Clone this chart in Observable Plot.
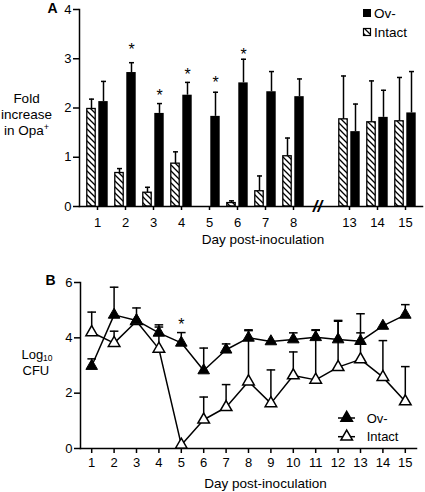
<!DOCTYPE html>
<html><head><meta charset="utf-8">
<script src="https://cdn.jsdelivr.net/npm/d3@7"></script>
<script src="https://cdn.jsdelivr.net/npm/@observablehq/plot@0.6"></script>
<style>
html,body{margin:0;padding:0;background:#fff;}
#wrap{position:relative;width:425px;height:492px;overflow:hidden;font-family:"Liberation Sans",Arial,Helvetica,sans-serif;}
#a{position:absolute;left:0;top:0;}
#b{position:absolute;left:0;top:255px;}
#legend{position:absolute;left:0;top:0;pointer-events:none;}
</style></head><body>
<div id="wrap"><div id="a"></div><div id="b"></div><svg id="legend" width="425" height="492"></svg></div>
<script>
// ---------- Panel A data ----------
const daysA = ["1","2","3","4","5","6","7","8","13","14","15"];
const slotsA = ["1","2","3","4","5","6","7","8","//","13","14","15"];
const intactA    = [1.98, 0.68, 0.28, 0.87, null, 0.07, 0.31, 1.02, 1.77, 1.71, 1.73];
const intactAErr = [2.18, 0.77, 0.39, 1.11, null, 0.115, 0.62, 1.39, 2.65, 2.55, 2.62];
const ovA        = [2.13, 2.72, 1.89, 2.26, 1.83, 2.51, 2.33, 2.23, 1.52, 1.81, 1.90];
const ovAErr     = [2.54, 2.92, 2.09, 2.52, 2.32, 2.99, 2.74, 2.59, 2.08, 2.36, 2.74];
const starDaysA  = ["2","3","4","5","6"];
const starYA     = [3.27, 2.33, 2.76, 2.60, 3.16];
const yTicksA    = [0,1,2,3,4];

// ---------- Panel B data ----------
const daysB      = [1,2,3,4,5,6,7,8,9,10,11,12,13,14,15];
const ovB        = [2.98, 4.83, 4.63, 4.18, 3.82, 2.82, 3.57, 4.00, 3.87, 3.94, 4.02, 3.94, 3.88, 4.43, 4.83];
const ovBErr     = [3.24, 5.83, 5.08, 4.47, 4.19, 3.63, 3.78, 4.29, null, 4.18, 4.29, 4.63, 4.87, null, 5.20];
const intactB    = [4.20, 3.81, 4.60, 3.60, 0.13, 1.04, 1.49, 2.42, 1.63, 2.64, 2.48, 2.94, 3.22, 2.58, 1.70];
const intactBErr = [4.93, 4.24, null, 4.39, null, 1.86, 2.31, 4.26, 2.84, 3.49, 4.27, 4.60, 4.18, 3.90, 2.96];
const starDaysB  = [5];
const starYB     = [4.62];
const yTicksB    = [0,2,4,6];

const seriesNames = ["Ov-","Intact"];
const xTitle = "Day post-inoculation";

const FONT = "'Liberation Sans', Arial, Helvetica, sans-serif";
const SW = 1.5;
const cap = hw => ({draw(ctx){ ctx.moveTo(-hw,0); ctx.lineTo(hw,0); }});

// ---------- Panel A ----------
const rowsA = daysA.map((d,i)=>({day:d, intact:intactA[i], intactErr:intactAErr[i], ov:ovA[i], ovErr:ovAErr[i]}));
const starsA = starDaysA.map((d,i)=>({day:d, y:starYA[i]}));
const mLA = 79, mRA = 3, WA = 425;
const bw = (WA - mLA - mRA) / slotsA.length;

const chartA = Plot.plot({
  width: WA, height: 250,
  marginLeft: mLA, marginRight: mRA, marginTop: 9, marginBottom: 44,
  style: {fontFamily: FONT, fontSize: "13px", color: "black", background: "white", overflow: "visible"},
  x: {type: "band", domain: slotsA, padding: 0},
  y: {domain: [0,4]},
  marks: [
    Plot.barY(rowsA, {x:"day", y:"intact", fill:"url(#hatchA)", stroke:"black", strokeWidth:1.3,
      insetLeft: bw/2 - 10.5, insetRight: bw/2 + 1.5}),
    Plot.barY(rowsA, {x:"day", y:"ov", fill:"black", insetLeft: bw/2 + 1, insetRight: bw/2 - 11}),
    Plot.ruleX(rowsA, {x:"day", y1:"intact", y2:"intactErr", dx:-6, strokeWidth:SW}),
    Plot.ruleX(rowsA, {x:"day", y1:"ov", y2:"ovErr", dx:6, strokeWidth:SW}),
    Plot.dot(rowsA, {x:"day", y:"intactErr", dx:-6, r:3, symbol:cap(2.5), stroke:"black", strokeWidth:SW, fill:"none"}),
    Plot.dot(rowsA, {x:"day", y:"ovErr", dx:6, r:3, symbol:cap(2.5), stroke:"black", strokeWidth:SW, fill:"none"}),
    Plot.text(starsA, {x:"day", y:"y", text:()=>"*", dx:6, dy:4, fontSize:16}),
    Plot.frame({anchor:"left", strokeWidth:SW}),
    Plot.frame({anchor:"bottom", strokeWidth:SW}),
    Plot.text([{s:"//", v:0}], {x:()=>"//", y:"v", text:"s", dx:-4, dy:0, fontSize:17, fontWeight:"bold", fontStyle:"italic"}),
    Plot.axisX({ticks: daysA, tickSize:4, tickPadding:7, label:null, strokeWidth:SW}),
    Plot.axisY({ticks: yTicksA, tickFormat: d => String(d), tickSize:6, tickPadding:2, label:null, strokeWidth:SW}),
    Plot.text([xTitle], {text:d=>d, frameAnchor:"bottom", dy:33, dx:12, lineAnchor:"middle", fontSize:13.5}),
    Plot.text(["Fold\nincrease\nin Opa+"], {text:d=>d, frameAnchor:"left", dx:-53, dy:5.5, textAnchor:"middle", lineAnchor:"middle", lineHeight:1.18, fontSize:13.5}),
    Plot.text(["A"], {text:d=>d, frameAnchor:"top-left", dx:-32, dy:-1, lineAnchor:"middle", fontWeight:"bold", fontSize:14})
  ]
});
{
  const defs = d3.select(chartA).insert("defs", ":first-child");
  const p = defs.append("pattern").attr("id","hatchA").attr("patternUnits","userSpaceOnUse").attr("width",6).attr("height",6);
  p.append("rect").attr("width",6).attr("height",6).attr("fill","white");
  p.append("path").attr("d","M-1,-1L7,7M-1,5L1,7M5,-1L7,1").attr("stroke","black").attr("stroke-width",1.3);
  d3.select(chartA).selectAll("tspan").filter(function(){return this.textContent==="in Opa+";}).each(function(){
    this.textContent = "in Opa";
    d3.select(this).append("tspan").attr("baseline-shift","super").attr("font-size","9px").text("+");
  });
}
document.getElementById("a").appendChild(chartA);

// ---------- Panel B ----------
const rowsB = daysB.map((d,i)=>({day:d, ov:ovB[i], ovErr:ovBErr[i], intact:intactB[i], intactErr:intactBErr[i]}));
const starsB = starDaysB.map((d,i)=>({day:d, y:starYB[i]}));
const chartB = Plot.plot({
  width: 425, height: 237,
  marginLeft: 80, marginRight: 9, marginTop: 27, marginBottom: 44,
  style: {fontFamily: FONT, fontSize: "13px", color: "black", background: "white", overflow: "visible"},
  x: {domain: [0.5, 15.5]},
  y: {domain: [0, 6]},
  marks: [
    Plot.line(rowsB, {x:"day", y:"intact", stroke:"black", strokeWidth:SW}),
    Plot.line(rowsB, {x:"day", y:"ov", stroke:"black", strokeWidth:SW}),
    Plot.ruleX(rowsB, {x:"day", y1:"intact", y2:"intactErr", strokeWidth:SW}),
    Plot.ruleX(rowsB, {x:"day", y1:"ov", y2:"ovErr", strokeWidth:SW}),
    Plot.dot(rowsB, {x:"day", y:"intactErr", r:3, symbol:cap(4.3), stroke:"black", strokeWidth:SW, fill:"none"}),
    Plot.dot(rowsB, {x:"day", y:"ovErr", r:3, symbol:cap(4.3), stroke:"black", strokeWidth:SW, fill:"none"}),
    Plot.dot(rowsB, {x:"day", y:"intact", symbol:"triangle", r:4.3, fill:"white", stroke:"black", strokeWidth:SW}),
    Plot.dot(rowsB, {x:"day", y:"ov", symbol:"triangle", r:4.3, fill:"black", stroke:"black", strokeWidth:1}),
    Plot.text(starsB, {x:"day", y:"y", text:()=>"*", dy:4, fontSize:16}),
    Plot.frame({anchor:"left", strokeWidth:SW}),
    Plot.frame({anchor:"bottom", strokeWidth:SW}),
    Plot.axisX({ticks: daysB, tickFormat: d => String(d), tickSize:5, tickPadding:4.5, label:null, strokeWidth:SW}),
    Plot.axisY({ticks: yTicksB, tickFormat: d => String(d), tickSize:6, tickPadding:2, label:null, strokeWidth:SW}),
    Plot.text([xTitle], {text:d=>d, frameAnchor:"bottom", dy:35, dx:17, lineAnchor:"middle", fontSize:13.5}),
    Plot.text(["Log"], {text:d=>d, frameAnchor:"left", dx:-59, dy:-11, textAnchor:"start", lineAnchor:"middle", fontSize:13}),
    Plot.text(["10"], {text:d=>d, frameAnchor:"left", dx:-37.5, dy:-7.5, textAnchor:"start", lineAnchor:"middle", fontSize:8.5}),
    Plot.text(["CFU"], {text:d=>d, frameAnchor:"left", dx:-58, dy:5.5, textAnchor:"start", lineAnchor:"middle", fontSize:13}),
    Plot.text(["B"], {text:d=>d, frameAnchor:"top-left", dx:-35, dy:-2, lineAnchor:"middle", fontWeight:"bold", fontSize:14})
  ]
});
document.getElementById("b").appendChild(chartB);

// ---------- Legends ----------
const L = d3.select("#legend").style("font-family", FONT).style("font-size","13.5px");
const lp = L.append("defs").append("pattern").attr("id","hatchL").attr("patternUnits","userSpaceOnUse").attr("width",6).attr("height",6);
lp.append("rect").attr("width",6).attr("height",6).attr("fill","white");
lp.append("path").attr("d","M-1,-1L7,7M-1,5L1,7M5,-1L7,1").attr("stroke","black").attr("stroke-width",1.3);
// Panel A legend
L.append("rect").attr("x",363).attr("y",9).attr("width",8).attr("height",8).attr("fill","black");
L.append("rect").attr("x",363.5).attr("y",28.5).attr("width",7).attr("height",7).attr("fill","url(#hatchL)").attr("stroke","black").attr("stroke-width",1.2);
L.append("text").attr("x",374).attr("y",13).attr("dy","0.35em").text(seriesNames[0]);
L.append("text").attr("x",374).attr("y",32.5).attr("dy","0.35em").text(seriesNames[1]);
// Panel B legend
const tri = d3.symbol(d3.symbolTriangle, Math.PI*4.3*4.3)();
[[418, "black", seriesNames[0]], [436.7, "white", seriesNames[1]]].forEach(([y, f, name]) => {
  L.append("line").attr("x1",338).attr("x2",355).attr("y1",y).attr("y2",y).attr("stroke","black").attr("stroke-width",SW);
  L.append("path").attr("d",tri).attr("transform",`translate(346.7,${y})`).attr("fill",f).attr("stroke","black").attr("stroke-width",SW);
  L.append("text").attr("x",366.7).attr("y",y).attr("dy","0.35em").attr("font-size","13px").text(name);
});
</script>
</body></html>
